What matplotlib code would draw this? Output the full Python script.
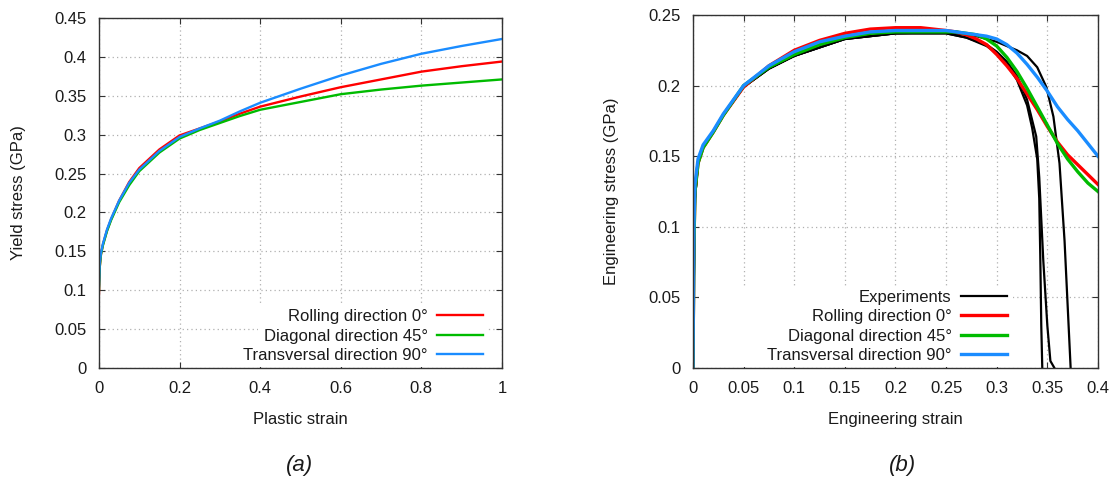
import matplotlib
matplotlib.use("Agg")
import matplotlib.pyplot as plt
from matplotlib.patches import Rectangle
from matplotlib.ticker import FuncFormatter

plt.rcParams["font.family"] = ["Liberation Sans", "DejaVu Sans"]
plt.rcParams["font.size"] = 12

RED = "#ff0000"
GREEN = "#00bb00"
BLUE = "#1a8cff"
TXT = "#1a1a1a"

labels = ["Rolling direction 0°", "Diagonal direction 45°", "Transversal direction 90°"]

# (a) yield stress vs plastic strain
eps_a = [0, 0.002, 0.005, 0.01, 0.02, 0.03, 0.05, 0.075, 0.1, 0.15, 0.2, 0.25,
         0.3, 0.35, 0.4, 0.5, 0.6, 0.7, 0.8, 0.9, 1.0]
ys_rd = [0.095, 0.130, 0.146, 0.159, 0.177, 0.191, 0.215, 0.239, 0.257, 0.281, 0.299, 0.308,
         0.317, 0.327, 0.336, 0.349, 0.361, 0.371, 0.381, 0.388, 0.394]
ys_dd = [0.100, 0.130, 0.146, 0.158, 0.176, 0.190, 0.213, 0.235, 0.253, 0.277, 0.295, 0.306,
         0.315, 0.324, 0.332, 0.342, 0.352, 0.358, 0.363, 0.367, 0.371]
ys_td = [0.105, 0.135, 0.148, 0.160, 0.178, 0.192, 0.215, 0.238, 0.255, 0.279, 0.297, 0.308,
         0.318, 0.330, 0.341, 0.359, 0.376, 0.391, 0.404, 0.414, 0.423]

# (b) engineering stress-strain, simulations
eps_b = [0, 0.001, 0.002, 0.005, 0.01, 0.02, 0.03, 0.05, 0.075, 0.1, 0.125, 0.15, 0.175,
         0.2, 0.225, 0.25, 0.26, 0.27, 0.28, 0.29, 0.3, 0.31, 0.32, 0.33, 0.34, 0.35,
         0.36, 0.37, 0.38, 0.39, 0.4]
es_rd = [0, 0.090, 0.125, 0.145, 0.156, 0.167, 0.179, 0.199, 0.214, 0.225, 0.232, 0.237, 0.240,
         0.241, 0.241, 0.239, 0.238, 0.236, 0.233, 0.229, 0.222, 0.214, 0.205, 0.194, 0.183, 0.171,
         0.160, 0.151, 0.144, 0.137, 0.130]
es_dd = [0, 0.090, 0.125, 0.145, 0.156, 0.167, 0.179, 0.200, 0.213, 0.222, 0.229, 0.234, 0.237,
         0.238, 0.238, 0.238, 0.238, 0.237, 0.236, 0.233, 0.228, 0.220, 0.210, 0.198, 0.185, 0.172,
         0.159, 0.148, 0.139, 0.131, 0.125]
es_td = [0, 0.100, 0.130, 0.148, 0.158, 0.168, 0.180, 0.200, 0.214, 0.224, 0.231, 0.235, 0.238,
         0.239, 0.239, 0.239, 0.238, 0.237, 0.236, 0.235, 0.233, 0.229, 0.223, 0.215, 0.206, 0.196,
         0.185, 0.176, 0.168, 0.159, 0.150]

# (b) experiments (three specimens)
exp1_e = [0, 0.001, 0.002, 0.005, 0.01, 0.02, 0.03, 0.05, 0.075, 0.1, 0.15, 0.2, 0.25,
          0.27, 0.29, 0.3, 0.31, 0.32, 0.33, 0.335, 0.34, 0.342, 0.343, 0.344, 0.345]
exp1_s = [0, 0.070, 0.120, 0.145, 0.156, 0.167, 0.179, 0.199, 0.212, 0.221, 0.233, 0.237, 0.237,
          0.234, 0.228, 0.223, 0.215, 0.204, 0.186, 0.170, 0.148, 0.120, 0.080, 0.030, 0]
exp2_e = [0, 0.001, 0.002, 0.005, 0.01, 0.02, 0.03, 0.05, 0.075, 0.1, 0.15, 0.2, 0.25,
          0.27, 0.29, 0.3, 0.31, 0.32, 0.33, 0.339, 0.342, 0.346, 0.35, 0.353, 0.357]
exp2_s = [0, 0.070, 0.120, 0.145, 0.156, 0.167, 0.179, 0.199, 0.212, 0.221, 0.233, 0.237, 0.237,
          0.234, 0.229, 0.224, 0.217, 0.207, 0.190, 0.164, 0.135, 0.076, 0.030, 0.005, 0]
exp3_e = [0, 0.001, 0.002, 0.005, 0.01, 0.02, 0.03, 0.05, 0.075, 0.1, 0.15, 0.2, 0.25,
          0.28, 0.3, 0.32, 0.33, 0.34, 0.349, 0.356, 0.362, 0.367, 0.372, 0.373]
exp3_s = [0, 0.070, 0.120, 0.145, 0.156, 0.167, 0.179, 0.199, 0.212, 0.221, 0.233, 0.237, 0.238,
          0.235, 0.231, 0.225, 0.221, 0.213, 0.199, 0.178, 0.145, 0.090, 0.015, 0]


def style(ax, xmax, ymax, xstep, ystep):
    ax.set_xlim(0, xmax)
    ax.set_ylim(0, ymax)
    nx = int(round(xmax / xstep))
    ny = int(round(ymax / ystep))
    ax.set_xticks([i * xstep for i in range(nx + 1)])
    ax.set_yticks([i * ystep for i in range(ny + 1)])
    fmt = FuncFormatter(lambda v, p: "%g" % round(v, 4))
    ax.xaxis.set_major_formatter(fmt)
    ax.yaxis.set_major_formatter(fmt)
    ax.grid(True, color="#b0b0b0", linewidth=0.9, linestyle=(0, (1, 2.5)))
    ax.tick_params(direction="in", length=4, width=0.8, top=True, right=True,
                   colors="#333333", labelcolor=TXT, labelsize=12)
    ax.tick_params(axis="x", pad=9)
    ax.tick_params(axis="y", pad=9)
    for s in ax.spines.values():
        s.set_color("#333333")
        s.set_linewidth(1.0)


def add_legend(ax, xr):
    ax.legend(loc="lower right", bbox_to_anchor=(xr, 0.014), frameon=False,
              markerfirst=False, handlelength=2.76, handletextpad=0.55,
              labelspacing=0.27, borderpad=0, borderaxespad=0,
              fontsize=12, labelcolor=TXT)


fig = plt.figure(figsize=(11.13, 4.82), dpi=100)
ax1 = fig.add_axes([0.0889, 0.2365, 0.3621, 0.7262])
ax2 = fig.add_axes([0.6226, 0.2365, 0.3639, 0.7324])

# panel (a)
style(ax1, 1.0, 0.45, 0.2, 0.05)
ax1.plot(eps_a, ys_rd, color=RED, lw=1.7, label=labels[0])
ax1.plot(eps_a, ys_dd, color=GREEN, lw=1.7, label=labels[1])
ax1.plot(eps_a, ys_td, color=BLUE, lw=1.7, label=labels[2])
ax1.add_patch(Rectangle((0.395, 0.003), 0.565, 0.177, transform=ax1.transAxes,
                        facecolor="white", edgecolor="none", zorder=1.6))
ax1.set_xlabel("Plastic strain", color=TXT)
ax1.set_ylabel("Yield stress (GPa)", color=TXT)
ax1.xaxis.set_label_coords(0.5, -0.148)
ax1.xaxis.label.set_va("center")
ax1.yaxis.set_label_coords(-0.2, 0.5)
ax1.yaxis.label.set_va("center")
add_legend(ax1, 0.953)

# panel (b)
style(ax2, 0.4, 0.25, 0.05, 0.05)
ax2.plot(exp1_e, exp1_s, color="black", lw=1.6, label="Experiments")
ax2.plot(exp2_e, exp2_s, color="black", lw=1.6)
ax2.plot(exp3_e, exp3_s, color="black", lw=1.6)
ax2.plot(eps_b, es_rd, color=RED, lw=2.4, label=labels[0])
ax2.plot(eps_b, es_dd, color=GREEN, lw=2.4, label=labels[1])
ax2.plot(eps_b, es_td, color=BLUE, lw=2.4, label=labels[2])
ax2.add_patch(Rectangle((0.015, 0.003), 0.775, 0.229, transform=ax2.transAxes,
                        facecolor="white", edgecolor="none", zorder=1.6))
ax2.set_xlabel("Engineering strain", color=TXT)
ax2.set_ylabel("Engineering stress (GPa)", color=TXT)
ax2.xaxis.set_label_coords(0.5, -0.147)
ax2.xaxis.label.set_va("center")
ax2.yaxis.set_label_coords(-0.2, 0.5)
ax2.yaxis.label.set_va("center")
add_legend(ax2, 0.775)

fig.text(300 / 1113, 1 - 465 / 482, "(a)", ha="center", va="center",
         fontsize=16, style="italic", color=TXT)
fig.text(903 / 1113, 1 - 465 / 482, "(b)", ha="center", va="center",
         fontsize=16, style="italic", color=TXT)

fig.savefig("out.png", dpi=100, facecolor="white")
